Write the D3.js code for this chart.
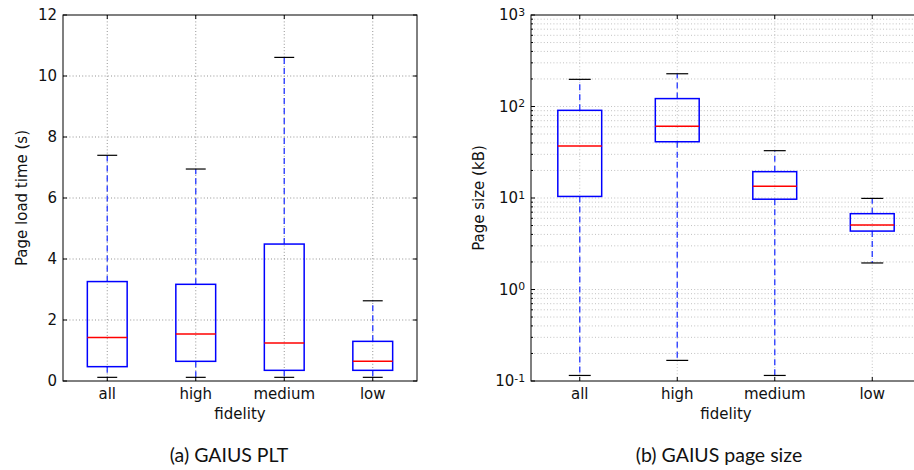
<!DOCTYPE html>
<html>
<head>
<meta charset="utf-8">
<script src="https://cdn.jsdelivr.net/npm/d3@7"></script>
<style>
  html, body { margin: 0; padding: 0; background: #fff; overflow: hidden; }
  svg { display: block; }
  text { font-family: "DejaVu Sans", sans-serif; fill: #111; }
  .cap { font-family: Lato, "Liberation Sans", sans-serif; }
</style>
</head>
<body>
<svg id="chart" width="914" height="470"></svg>
<script>
// ---------- data ----------
const categories = ["all", "high", "medium", "low"];

// (a) page load time (s)
const pltWhiskerLow  = [0.12, 0.12, 0.12, 0.12];
const pltQ1          = [0.47, 0.645, 0.35, 0.35];
const pltMedian      = [1.43, 1.54, 1.25, 0.645];
const pltQ3          = [3.26, 3.17, 4.49, 1.30];
const pltWhiskerHigh = [7.40, 6.95, 10.61, 2.63];
const pltTicks = [0, 2, 4, 6, 8, 10, 12];

// (b) page size (kB), log scale
const sizeWhiskerLow  = [0.115, 0.168, 0.115, 1.95];
const sizeQ1          = [10.4, 41.2, 9.7, 4.35];
const sizeMedian      = [37, 61, 13.4, 5.07];
const sizeQ3          = [90.8, 122, 19.4, 6.74];
const sizeWhiskerHigh = [198, 228, 32.9, 9.9];
const sizeExponents = [-1, 0, 1, 2, 3];

const captions = ["(a) GAIUS PLT", "(b) GAIUS page size"];
const yLabels = ["Page load time (s)", "Page size (kB)"];
const xLabel = "fidelity";

// ---------- drawing ----------
const svg = d3.select("#chart");
const FS = 15;

function boxes(g, x, y, lo, q1, med, q3, hi) {
  const bw = 0.45 * x.step();
  const data = categories.map((c, i) => ({c, lo: lo[i], q1: q1[i], med: med[i], q3: q3[i], hi: hi[i]}));
  const gg = g.selectAll("g.box").data(data).join("g").attr("class", "box");
  gg.append("line").attr("x1", d => x(d.c)).attr("x2", d => x(d.c))
    .attr("y1", d => y(d.q3)).attr("y2", d => y(d.hi))
    .attr("stroke", "#3344ff").attr("stroke-width", 1.4).attr("stroke-dasharray", "6,4");
  gg.append("line").attr("x1", d => x(d.c)).attr("x2", d => x(d.c))
    .attr("y1", d => y(d.q1)).attr("y2", d => y(d.lo))
    .attr("stroke", "#3344ff").attr("stroke-width", 1.4).attr("stroke-dasharray", "6,4");
  ["lo", "hi"].forEach(k => {
    gg.append("line").attr("x1", d => x(d.c) - bw / 4).attr("x2", d => x(d.c) + bw / 4)
      .attr("y1", d => y(d[k])).attr("y2", d => y(d[k]))
      .attr("stroke", "#000").attr("stroke-width", 1.2);
  });
  gg.append("rect").attr("x", d => x(d.c) - bw / 2).attr("width", bw)
    .attr("y", d => y(d.q3)).attr("height", d => y(d.q1) - y(d.q3))
    .attr("fill", "none").attr("stroke", "#0000ff").attr("stroke-width", 1.5);
  gg.append("line").attr("x1", d => x(d.c) - bw / 2).attr("x2", d => x(d.c) + bw / 2)
    .attr("y1", d => y(d.med)).attr("y2", d => y(d.med))
    .attr("stroke", "#ff0000").attr("stroke-width", 1.5);
}

function frame(g, x0, x1, y0, y1) {
  g.append("rect").attr("x", x0).attr("y", y0).attr("width", x1 - x0).attr("height", y1 - y0)
    .attr("fill", "none").attr("stroke", "#000").attr("stroke-width", 1);
}

// ===== Panel (a) =====
{
  const L = 63, R = 417, T = 15, B = 381;
  const x = d3.scalePoint().domain(categories).range([L, R]).padding(0.5);
  const y = d3.scaleLinear().domain([0, 12]).range([B, T]);
  const g = svg.append("g");

  g.append("g").selectAll("line").data(pltTicks.slice(1, -1)).join("line")
    .attr("x1", L).attr("x2", R).attr("y1", d => y(d)).attr("y2", d => y(d))
    .attr("stroke", "#666").attr("stroke-width", 0.7).attr("stroke-dasharray", "1,2.2");
  g.append("g").selectAll("line").data(categories).join("line")
    .attr("x1", d => x(d)).attr("x2", d => x(d)).attr("y1", T).attr("y2", B)
    .attr("stroke", "#666").attr("stroke-width", 0.7).attr("stroke-dasharray", "1,2.2");

  boxes(g, x, y, pltWhiskerLow, pltQ1, pltMedian, pltQ3, pltWhiskerHigh);

  const tk = g.append("g").attr("stroke", "#000").attr("stroke-width", 1);
  pltTicks.forEach(v => {
    tk.append("line").attr("x1", L).attr("x2", L + 4).attr("y1", y(v)).attr("y2", y(v));
    tk.append("line").attr("x1", R).attr("x2", R - 4).attr("y1", y(v)).attr("y2", y(v));
  });
  categories.forEach(c => {
    tk.append("line").attr("x1", x(c)).attr("x2", x(c)).attr("y1", B).attr("y2", B - 4);
    tk.append("line").attr("x1", x(c)).attr("x2", x(c)).attr("y1", T).attr("y2", T + 4);
  });
  frame(g, L, R, T, B);

  g.append("g").selectAll("text").data(pltTicks).join("text")
    .attr("x", L - 6).attr("y", d => y(d)).attr("dy", "0.36em")
    .attr("text-anchor", "end").attr("font-size", FS).text(d => d);
  g.append("g").selectAll("text").data(categories).join("text")
    .attr("x", d => x(d)).attr("y", 399).attr("text-anchor", "middle")
    .attr("font-size", FS).text(d => d);
  g.append("text").attr("x", (L + R) / 2).attr("y", 419).attr("text-anchor", "middle")
    .attr("font-size", FS).text(xLabel);
  g.append("text").attr("transform", `translate(27,${(T + B) / 2}) rotate(-90)`)
    .attr("text-anchor", "middle").attr("font-size", FS).text(yLabels[0]);
  g.append("text").attr("class", "cap").attr("x", 229).attr("y", 462)
    .attr("text-anchor", "middle").attr("font-size", 19.5).text(captions[0]);
}

// ===== Panel (b) =====
{
  const L = 531, R = 921, T = 15, B = 381;
  const x = d3.scalePoint().domain(categories).range([L, R]).padding(0.5);
  const y = d3.scaleLog().domain([0.1, 1000]).range([B, T]);
  const g = svg.append("g");

  const minors = [];
  sizeExponents.slice(0, -1).forEach(e => {
    for (let m = 2; m <= 9; m++) minors.push(m * Math.pow(10, e));
  });
  const majors = sizeExponents.map(e => Math.pow(10, e));

  g.append("g").selectAll("line").data(minors.concat(majors.slice(1, -1))).join("line")
    .attr("x1", L).attr("x2", R).attr("y1", d => y(d)).attr("y2", d => y(d))
    .attr("stroke", "#999").attr("stroke-width", 0.6).attr("stroke-dasharray", "1,2.2");
  g.append("g").selectAll("line").data(categories).join("line")
    .attr("x1", d => x(d)).attr("x2", d => x(d)).attr("y1", T).attr("y2", B)
    .attr("stroke", "#999").attr("stroke-width", 0.6).attr("stroke-dasharray", "1,2.2");

  boxes(g, x, y, sizeWhiskerLow, sizeQ1, sizeMedian, sizeQ3, sizeWhiskerHigh);

  const tk = g.append("g").attr("stroke", "#000").attr("stroke-width", 1);
  majors.forEach(v => {
    tk.append("line").attr("x1", L).attr("x2", L + 4).attr("y1", y(v)).attr("y2", y(v));
    tk.append("line").attr("x1", R).attr("x2", R - 4).attr("y1", y(v)).attr("y2", y(v));
  });
  minors.forEach(v => {
    tk.append("line").attr("x1", L).attr("x2", L + 2).attr("y1", y(v)).attr("y2", y(v));
    tk.append("line").attr("x1", R).attr("x2", R - 2).attr("y1", y(v)).attr("y2", y(v));
  });
  categories.forEach(c => {
    tk.append("line").attr("x1", x(c)).attr("x2", x(c)).attr("y1", B).attr("y2", B - 4);
    tk.append("line").attr("x1", x(c)).attr("x2", x(c)).attr("y1", T).attr("y2", T + 4);
  });
  frame(g, L, R, T, B);

  const lab = g.append("g").selectAll("text").data(sizeExponents).join("text")
    .attr("x", L - 6).attr("y", d => y(Math.pow(10, d))).attr("dy", "0.36em")
    .attr("text-anchor", "end").attr("font-size", FS);
  lab.append("tspan").text("10");
  lab.append("tspan").attr("dy", "-0.45em").attr("font-size", FS * 0.72).text(d => d);

  g.append("g").selectAll("text").data(categories).join("text")
    .attr("x", d => x(d)).attr("y", 399).attr("text-anchor", "middle")
    .attr("font-size", FS).text(d => d);
  g.append("text").attr("x", (L + R) / 2).attr("y", 419).attr("text-anchor", "middle")
    .attr("font-size", FS).text(xLabel);
  g.append("text").attr("transform", `translate(484,${(T + B) / 2}) rotate(-90)`)
    .attr("text-anchor", "middle").attr("font-size", FS).text(yLabels[1]);
  g.append("text").attr("class", "cap").attr("x", 719).attr("y", 462)
    .attr("text-anchor", "middle").attr("font-size", 19.5).text(captions[1]);
}
</script>
</body>
</html>
